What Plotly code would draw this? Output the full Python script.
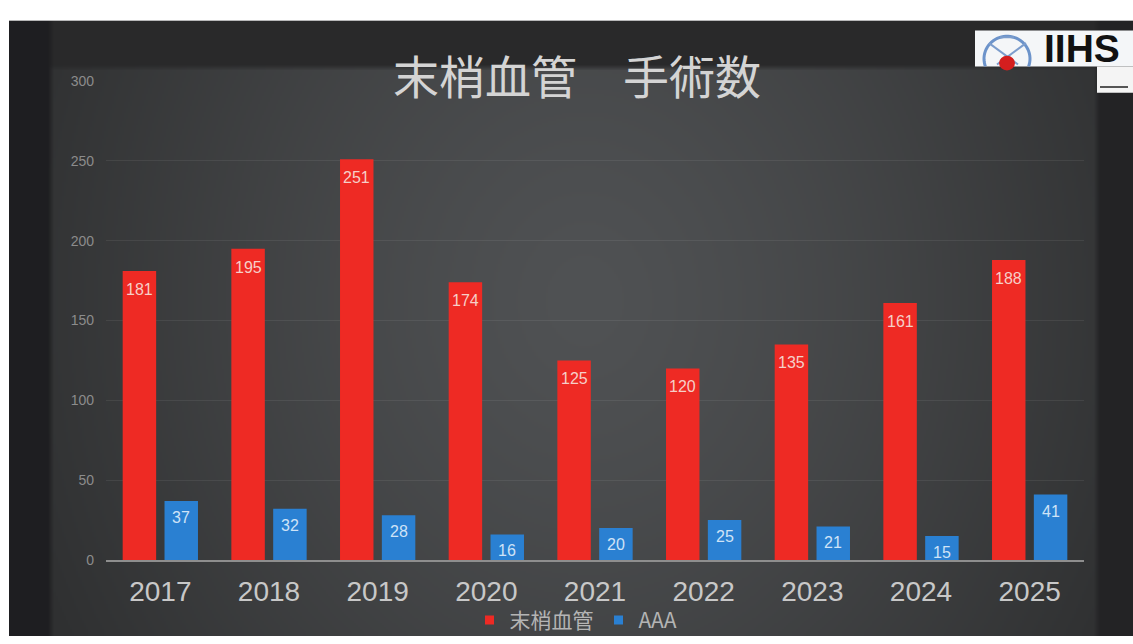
import base64
import struct
import zlib

import numpy as np
import plotly.graph_objects as go

# ---- data ----
years = ["2017", "2018", "2019", "2020", "2021", "2022", "2023", "2024", "2025"]
peripheral = [181, 195, 251, 174, 125, 120, 135, 161, 188]
aaa = [37, 32, 28, 16, 20, 25, 21, 15, 41]
y_ticks = [0, 50, 100, 150, 200, 250, 300]

W, H = 1133, 644
RED = "#EE2A24"
BLUE = "#2A80D2"
SANS = "Liberation Sans, Arial, sans-serif"


def px(x):
    return x / W


def py(y):
    return 1 - y / H


# ---- dark slide background as a small stretched PNG ----
def png_uri(arr):
    h, w, _ = arr.shape
    raw = b"".join(b"\x00" + arr[r].tobytes() for r in range(h))

    def chunk(tag, data):
        body = tag + data
        return struct.pack(">I", len(data)) + body + struct.pack(">I", zlib.crc32(body) & 0xFFFFFFFF)

    png = (b"\x89PNG\r\n\x1a\n"
           + chunk(b"IHDR", struct.pack(">IIBBBBB", w, h, 8, 2, 0, 0, 0))
           + chunk(b"IDAT", zlib.compress(raw, 9))
           + chunk(b"IEND", b""))
    return "data:image/png;base64," + base64.b64encode(png).decode()


x0, y0 = 9, 13
bw, bh = (W - x0) // 2, (H - y0) // 2
X = x0 + (np.arange(bw) + 0.5) * 2
Y = y0 + (np.arange(bh) + 0.5) * 2
XX, YY = np.meshgrid(X, Y)

center = np.array([80, 82, 84], float)
edge = np.array([47, 48, 49], float)
t = np.sqrt(((XX - 585) / 600) ** 2 + ((YY - 300) / 720) ** 2)
t = np.clip(t, 0, 1) ** 1.3
img = center[None, None, :] * (1 - t[..., None]) + edge[None, None, :] * t[..., None]

img[YY < 61] = [41, 41, 42]
img[XX < 51] = [31, 31, 33]
img[XX > 1097] = [35, 35, 37]

# soften the hard steps a little
k = np.ones(3) / 3
for axis in (0, 1):
    img = np.apply_along_axis(lambda v: np.convolve(np.pad(v, 1, mode="edge"), k, mode="valid"), axis, img)
bg_uri = png_uri(np.clip(img, 0, 255).astype(np.uint8))

fig = go.Figure()
fig.add_trace(go.Bar(x=years, y=peripheral, name="末梢血管", showlegend=False,
                     marker=dict(color=RED, line=dict(width=0))))
fig.add_trace(go.Bar(x=years, y=aaa, name="AAA", showlegend=False,
                     marker=dict(color=BLUE, line=dict(width=0))))
# small square legend keys
fig.add_trace(go.Scatter(x=[None], y=[None], mode="markers", name="末梢血管",
                         marker=dict(symbol="square", size=9, color=RED)))
fig.add_trace(go.Scatter(x=[None], y=[None], mode="markers", name="AAA",
                         marker=dict(symbol="square", size=9, color=BLUE)))

# value labels inside the top of each bar
annotations = []
for i in range(len(years)):
    annotations.append(dict(x=i, y=peripheral[i], xref="x", yref="y", text=str(peripheral[i]),
                            showarrow=False, xshift=-21, yshift=-8, yanchor="top",
                            font=dict(family=SANS, size=16, color="#F6CFC8")))
    annotations.append(dict(x=i, y=aaa[i], xref="x", yref="y", text=str(aaa[i]),
                            showarrow=False, xshift=21, yshift=-6, yanchor="top",
                            font=dict(family=SANS, size=16, color="#CFE3F7")))

# title
annotations.append(dict(x=px(577), y=py(68), xref="paper", yref="paper", text="末梢血管　手術数",
                        showarrow=False, xanchor="center", yanchor="middle",
                        font=dict(family="Noto Sans CJK JP", size=46, color="#D4D4D4")))
# logo lettering
annotations.append(dict(x=px(1082), y=py(42), xref="paper", yref="paper", text="<b>IIHS</b>",
                        showarrow=False, xanchor="center", yanchor="middle",
                        font=dict(family=SANS, size=39, color="#111111")))

shapes = [
    dict(type="rect", xref="paper", yref="paper", x0=px(975), x1=px(1133), y0=py(60), y1=py(23),
         fillcolor="#F4F6F8", line=dict(width=0), layer="above"),
    dict(type="rect", xref="paper", yref="paper", x0=px(1097), x1=px(1133), y0=py(87), y1=py(60),
         fillcolor="#F4F4F4", line=dict(width=0), layer="above"),
    dict(type="line", xref="paper", yref="paper", x0=px(1100), x1=px(1128), y0=py(81), y1=py(81),
         line=dict(color="#555555", width=2), layer="above"),
]

# logo emblem: upper arc with a crossing pair of strokes and a red dot
cx, cy, r = 1007, 52, 23
ang = np.linspace(np.radians(200), np.radians(-20), 40)
pts = [(cx + r * np.cos(a), cy - r * np.sin(a)) for a in ang]
path = "M " + " L ".join(f"{px(a):.5f},{py(b):.5f}" for a, b in pts)
shapes.append(dict(type="path", xref="paper", yref="paper", path=path,
                   line=dict(color="#6C93CA", width=3), layer="above"))
for (a1, b1, a2, b2) in [(989, 36, 1018, 58), (1026, 36, 997, 58), (1000, 30, 1014, 30)]:
    shapes.append(dict(type="line", xref="paper", yref="paper", x0=px(a1), y0=py(b1), x1=px(a2), y1=py(b2),
                       line=dict(color="#7C9DCC", width=2), layer="above"))
shapes.append(dict(type="circle", xref="paper", yref="paper", x0=px(999), x1=px(1015), y0=py(64), y1=py(49),
                   fillcolor="#D41E1E", line=dict(width=0), layer="above"))

fig.update_layout(
    width=W, height=H,
    margin=dict(l=0, r=0, t=0, b=0),
    paper_bgcolor="white",
    plot_bgcolor="rgba(0,0,0,0)",
    barmode="group",
    bargap=0.23,
    bargroupgap=0.2,
    showlegend=True,
    legend=dict(orientation="h", x=px(576), y=py(628), xanchor="center", yanchor="middle",
                bgcolor="rgba(0,0,0,0)",
                font=dict(family="Noto Sans CJK JP, Liberation Sans, sans-serif", size=21, color="#B4B4B4"),
                itemwidth=30, tracegroupgap=0),
    images=[dict(source=bg_uri, xref="paper", yref="paper", x=px(x0), y=py(y0),
                 sizex=(W - x0) / W, sizey=(H - y0) / H, xanchor="left", yanchor="top",
                 sizing="stretch", layer="below")],
    shapes=shapes,
    annotations=annotations,
    xaxis=dict(domain=[px(106), px(1084)], range=[-0.5, 8.5], type="category",
               showgrid=False, showline=True, linecolor="#8E8E8E", linewidth=1.5,
               ticks="", ticklabelstandoff=6,
               tickfont=dict(family=SANS, size=28, color="#C8C8C8")),
    yaxis=dict(domain=[py(566), py(75)], range=[0, 300], tickvals=y_ticks,
               showgrid=True, gridcolor="rgba(255,255,255,0.07)", gridwidth=1,
               zeroline=False, showline=False, ticks="", ticklabelstandoff=11,
               tickfont=dict(family=SANS, size=14, color="#8C8C8C")),
)

fig.write_html("out.html")
